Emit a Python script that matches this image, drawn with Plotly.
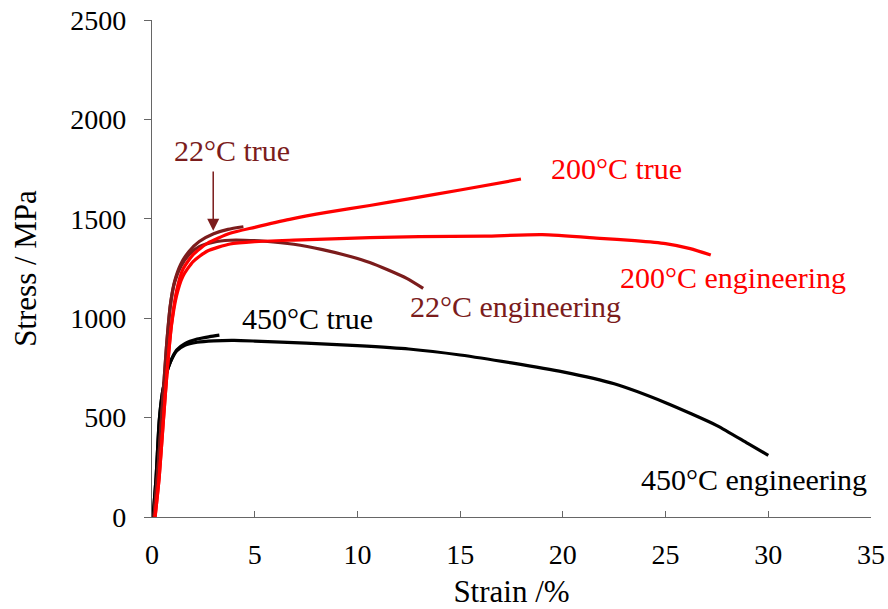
import plotly.graph_objects as go

# ---- data (strain %, stress MPa) ----
t22_true_x = [0.1, 0.3, 0.5, 0.7, 0.9, 1.1, 1.4, 1.8, 2.3, 3.0, 3.7, 4.45]
t22_true_y = [0, 250, 550, 850, 1070, 1185, 1272, 1336, 1386, 1425, 1447, 1460]

t22_eng_x = [0.1, 0.3, 0.5, 0.7, 0.9, 1.1, 1.4, 1.8, 2.3, 3.0, 3.8, 4.5, 5.5, 6.9, 8.3, 9.7, 10.6, 11.5, 12.4, 13.2]
t22_eng_y = [0, 250, 550, 850, 1070, 1180, 1260, 1320, 1360, 1383, 1392, 1392, 1387, 1372, 1345, 1309, 1280, 1242, 1200, 1150]

t200_true_x = [0.15, 0.35, 0.55, 0.75, 0.95, 1.2, 1.5, 2.0, 2.7, 3.8, 5.0, 6.7, 8.5, 10.6, 12.5, 15.0, 17.96]
t200_true_y = [0, 200, 480, 750, 970, 1140, 1245, 1320, 1377, 1427, 1457, 1497, 1532, 1567, 1600, 1645, 1700]

t200_eng_x = [0.15, 0.35, 0.55, 0.75, 0.95, 1.2, 1.5, 2.0, 2.7, 3.8, 5.0, 6.9, 10.6, 13.0, 16.2, 19.0, 21.8, 23.5, 25.0, 26.2, 27.2]
t200_eng_y = [0, 200, 480, 750, 965, 1115, 1210, 1285, 1338, 1373, 1385, 1393, 1405, 1410, 1413, 1420, 1402, 1390, 1375, 1350, 1318]

t450_true_x = [0.05, 0.2, 0.35, 0.5, 0.7, 0.9, 1.2, 1.6, 2.2, 2.8, 3.28]
t450_true_y = [0, 200, 480, 620, 720, 782, 840, 872, 895, 907, 915]

t450_eng_x = [0.05, 0.2, 0.35, 0.5, 0.7, 0.9, 1.2, 1.6, 2.2, 3.0, 4.0, 5.0, 7.5, 10.0, 12.5, 15.0, 17.5, 20.0, 22.5, 25.0, 27.5, 29.0, 30.0]
t450_eng_y = [0, 200, 480, 620, 720, 780, 835, 864, 879, 886, 888, 885, 875, 862, 845, 815, 775, 730, 670, 575, 460, 370, 310]

x_ticks = [0, 5, 10, 15, 20, 25, 30, 35]
y_ticks = [0, 500, 1000, 1500, 2000, 2500]

RED = "#FF0000"
DARK = "#7B1C1C"
BLACK = "#000000"
FONT = "Liberation Serif"

fig = go.Figure()
series = [
    (t450_eng_x, t450_eng_y, BLACK),
    (t450_true_x, t450_true_y, BLACK),
    (t22_eng_x, t22_eng_y, DARK),
    (t22_true_x, t22_true_y, DARK),
    (t200_eng_x, t200_eng_y, RED),
    (t200_true_x, t200_true_y, RED),
]
for xs, ys, c in series:
    fig.add_trace(go.Scatter(x=xs, y=ys, mode="lines",
                             line=dict(color=c, width=3.2, shape="spline", smoothing=0.6),
                             showlegend=False, hoverinfo="skip"))

labels = [
    ("22°C true", 3.9, 1846, DARK),
    ("200°C true", 22.6, 1755, RED),
    ("200°C engineering", 28.3, 1207, RED),
    ("22°C engineering", 17.7, 1061, DARK),
    ("450°C true", 7.55, 1001, BLACK),
    ("450°C engineering", 29.3, 191, BLACK),
]
for txt, x, y, c in labels:
    fig.add_annotation(x=x, y=y, text=txt, showarrow=False,
                       font=dict(family=FONT, size=30, color=c))

# arrow pointing to 22°C true curve
fig.add_annotation(x=2.98, y=1440, ax=2.98, ay=1745, axref="x", ayref="y",
                   xref="x", yref="y", text="", showarrow=True,
                   arrowhead=2, arrowsize=1.6, arrowwidth=1.5, arrowcolor=DARK)

fig.update_layout(
    width=888, height=609,
    margin=dict(l=152, r=17, t=20, b=92),
    paper_bgcolor="white", plot_bgcolor="white",
    font=dict(family=FONT, size=28, color="black"),
    xaxis=dict(range=[0, 35], tickvals=x_ticks, ticktext=[str(v) for v in x_ticks],
               ticks="inside", ticklen=6, tickcolor="#666666", showgrid=False,
               zeroline=False, showline=True, linecolor="#666666", linewidth=1.2,
               ticklabelstandoff=12, automargin=False,
               tickfont=dict(family=FONT, size=28),
               title=dict(text="Strain /%", font=dict(family=FONT, size=31), standoff=13)),
    yaxis=dict(range=[0, 2500], tickvals=y_ticks, ticktext=[str(v) for v in y_ticks],
               ticks="outside", ticklen=7, tickcolor="#666666", showgrid=False,
               zeroline=False, showline=True, linecolor="#666666", linewidth=1.2,
               ticklabelstandoff=12, automargin=False,
               tickfont=dict(family=FONT, size=28),
               title=dict(text="Stress / MPa", font=dict(family=FONT, size=31), standoff=24)),
)

fig.write_html("out.html")
